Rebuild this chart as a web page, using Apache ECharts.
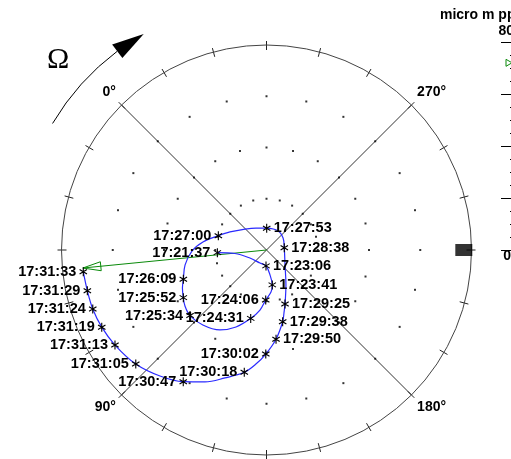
<!DOCTYPE html>
<html>
<head>
<meta charset="utf-8">
<script src="https://cdn.jsdelivr.net/npm/echarts@6/dist/echarts.min.js"></script>
<style>
  html, body { margin: 0; padding: 0; background: #fff; }
  #chart { width: 511px; height: 459px; }
</style>
</head>
<body>
<div id="chart"></div>
<script>
// Vibration vector history, oldest first.
// amplitude in micro m pp, phase in degrees; samples without a time stamp are unlabelled.
const times = [
  '17:21:37', null, null, null, '17:23:06', null, '17:23:41', null, '17:24:06', null,
  '17:24:31', null, null, null, '17:25:34', null, '17:25:52', null, '17:26:09', null,
  null, null, '17:27:00', null, null, null, '17:27:53', null, null, '17:28:38',
  null, null, '17:29:25', null, '17:29:38', '17:29:50', '17:30:02', null, '17:30:18', null,
  null, '17:30:47', null, '17:31:05', '17:31:13', '17:31:19', '17:31:24', '17:31:29', '17:31:33'
];
const amplitude = [
  19.2, 12.4, 7.2, 5.7, 6.2, 9.8, 13.8, 16.5, 19.5, 23.6,
  27.4, 32.3, 36.1, 38.4, 39.3, 38.6, 37.4, 36.0, 34.4, 32.3,
  29.1, 25.0, 19.6, 15.9, 11.7, 9.5, 8.5, 8.7, 8.0, 7.0,
  9.3, 15.6, 22.3, 25.5, 28.7, 35.0, 40.6, 44.7, 48.5, 52.5,
  56.8, 60.8, 64.4, 67.7, 69.8, 71.0, 71.6, 71.7, 72.0
];
const phase = [
  48.1, 51.3, 70.9, 108.4, 133.2, 143.0, 144.4, 141.1, 134.1, 128.8,
  122.0, 113.4, 104.8, 94.7, 85.6, 79.5, 74.8, 69.3, 64.4, 55.4,
  45.8, 37.8, 28.5, 18.7, 0.7, 340.5, 314.5, 283.8, 261.0, 232.4,
  186.0, 164.1, 153.9, 150.5, 147.7, 141.1, 134.6, 129.7, 124.7, 117.0,
  110.0, 102.7, 94.8, 86.1, 77.1, 70.1, 63.75, 57.8, 51.75
];
// Current vector [amplitude, phase]
const currentVector = [72.0, 50.6];
// Reference mark on the rim [amplitude, phase]
const rimMark = [77, 225];
// Amplitude rings carrying the dot grid, and the dot spacing in degrees
const dotRings = [20, 40, 60];
const dotStepDeg = 15;
// Full-scale amplitude of the plot
const fullScale = 80;

// Time stamps written to the right of their point
const labelsOnRight = ['17:23:06', '17:23:41', '17:27:53', '17:28:38', '17:29:25', '17:29:38', '17:29:50'];

const FONT = "'Liberation Sans', Arial, sans-serif";
const GREEN = '#0a8a0a';
const BLUE = '#2a2aff';
const STAR = 'path://M4.4 0H5.6V10H4.4Z M1.32 1.99L9.32 6.99L8.68 8.01L0.68 3.01Z M0.68 6.99L8.68 1.99L9.32 3.01L1.32 8.01Z';

const orbitData = times.map((t, i) => ({
  value: [amplitude[i], phase[i]],
  name: t || '',
  symbol: t ? STAR : 'none',
  label: { show: !!t, position: labelsOnRight.includes(t) ? 'right' : 'left' }
}));

const gridDots = [];
dotRings.forEach(r => {
  for (let a = 0; a < 360; a += dotStepDeg) gridDots.push([r, a]);
});

const chart = echarts.init(document.getElementById('chart'), null, { renderer: 'canvas' });

const angleBase = {
  type: 'value', min: 0, max: 360, interval: 90,
  startAngle: 135, clockwise: false
};

chart.setOption({
  backgroundColor: '#fff',
  animation: false,
  title: {
    text: 'micro m pp', left: 440, top: 8, padding: 0,
    textStyle: { fontFamily: FONT, fontWeight: 'bold', fontSize: 14, color: '#000' }
  },
  graphic: [{
    type: 'text', left: 47, top: 45,
    style: { text: 'Ω', font: "30px 'Liberation Serif', 'DejaVu Serif', serif", fill: '#000' }
  }],
  polar: [
    { center: [266.5, 250], radius: 205 },
    { center: [266.5, 250], radius: 205 }
  ],
  radiusAxis: [
    { polarIndex: 0, type: 'value', min: 0, max: fullScale, show: false },
    { polarIndex: 1, type: 'value', min: 0, max: fullScale, show: false }
  ],
  angleAxis: [
    Object.assign({}, angleBase, {
      polarIndex: 0,
      axisLine: { show: true, lineStyle: { color: '#444', width: 1 } },
      axisTick: { show: true, inside: false, length: 4, lineStyle: { color: '#222' } },
      minorTick: { show: true, splitNumber: 6, length: 4, lineStyle: { color: '#222' } },
      splitLine: { show: true, lineStyle: { color: '#333', width: 1 } },
      axisLabel: {
        show: true, margin: 8, formatter: '{value}°', color: '#000',
        fontFamily: FONT, fontWeight: 'bold', fontSize: 14
      }
    }),
    Object.assign({}, angleBase, {
      polarIndex: 1,
      axisLine: { show: false },
      axisTick: { show: true, inside: true, length: 5, lineStyle: { color: '#222' } },
      minorTick: { show: true, splitNumber: 6, length: 5, lineStyle: { color: '#222' } },
      splitLine: { show: false },
      axisLabel: { show: false }
    })
  ],
  // amplitude scale at the right edge
  grid: {
    left: 513, top: 42, width: 10, height: 208,
    containLabel: false, outerBoundsMode: 'none'
  },
  xAxis: { type: 'value', min: 0, max: 1, show: false },
  yAxis: {
    type: 'value', min: 0, max: fullScale, interval: 20, position: 'left',
    axisLine: { show: true, lineStyle: { color: '#000' } },
    axisTick: { show: true, inside: false, length: 12, lineStyle: { color: '#000' } },
    minorTick: { show: true, splitNumber: 4, length: 3, lineStyle: { color: '#000' } },
    splitLine: { show: false },
    axisLabel: {
      inside: false, margin: -1,
      formatter: v => v === fullScale ? '{hi|' + v + '}' : (v === 0 ? '{lo|0}' : ''),
      rich: {
        hi: { fontFamily: FONT, fontWeight: 'bold', fontSize: 14, color: '#000', padding: [0, 0, 22, 0] },
        lo: { fontFamily: FONT, fontWeight: 'bold', fontSize: 14, color: '#000', padding: [12, 3, 0, 0] }
      }
    }
  },
  series: [
    {
      // dot grid
      type: 'scatter', coordinateSystem: 'polar', polarIndex: 0,
      data: gridDots, symbol: 'rect', symbolSize: 2, silent: true,
      itemStyle: { color: '#000' }, z: 1
    },
    {
      // rotation direction arrow with its arc
      type: 'custom', coordinateSystem: 'polar', polarIndex: 0, silent: true,
      data: [[0, 0]], z: 2,
      renderItem(params, api) {
        const c = api.coord([0, 0]);
        const a = api.coord([97, 14.4]);
        const b = api.coord([97, -8.1]);
        const t = api.coord([97, -15.4]);
        const r = Math.hypot(a[0] - c[0], a[1] - c[1]);
        const sa = Math.atan2(a[1] - c[1], a[0] - c[0]);
        const ea = Math.atan2(b[1] - c[1], b[0] - c[0]);
        const u = [(b[0] - c[0]) / r, (b[1] - c[1]) / r];
        const hw = 8.5;
        return {
          type: 'group',
          children: [
            { type: 'arc', shape: { cx: c[0], cy: c[1], r: r, startAngle: sa, endAngle: ea, clockwise: true },
              style: { stroke: '#000', fill: null, lineWidth: 1 } },
            { type: 'polygon',
              shape: { points: [t, [b[0] + u[0] * hw, b[1] + u[1] * hw], [b[0] - u[0] * hw, b[1] - u[1] * hw]] },
              style: { fill: '#000' } }
          ]
        };
      }
    },
    {
      // rim reference mark
      type: 'scatter', coordinateSystem: 'polar', polarIndex: 0,
      data: [rimMark], symbol: 'rect', symbolSize: [17, 12], silent: true,
      itemStyle: { color: '#000' }, z: 3
    },
    {
      // current vector
      type: 'custom', coordinateSystem: 'polar', polarIndex: 0, silent: true,
      data: [currentVector], z: 4,
      renderItem(params, api) {
        const c = api.coord([0, 0]);
        const p = api.coord([api.value(0), api.value(1)]);
        const L = Math.hypot(p[0] - c[0], p[1] - c[1]);
        const u = [(p[0] - c[0]) / L, (p[1] - c[1]) / L];
        const n = [-u[1], u[0]];
        const len = 18, hw = 4.5;
        const bx = p[0] - u[0] * len, by = p[1] - u[1] * len;
        return {
          type: 'group',
          children: [
            { type: 'line', shape: { x1: c[0], y1: c[1], x2: p[0], y2: p[1] },
              style: { stroke: GREEN, lineWidth: 1 } },
            { type: 'polygon',
              shape: { points: [p, [bx + n[0] * hw, by + n[1] * hw], [bx - n[0] * hw, by - n[1] * hw]] },
              style: { fill: null, stroke: GREEN, lineWidth: 1 } }
          ]
        };
      }
    },
    {
      // orbit trace with time stamps
      type: 'line', coordinateSystem: 'polar', polarIndex: 0,
      data: orbitData, smooth: 0.35, clip: false, silent: true, z: 5,
      symbolSize: [8, 9],
      itemStyle: { color: '#000' },
      lineStyle: { color: BLUE, width: 1.2 },
      label: {
        formatter: '{b}', distance: 3, color: '#000',
        fontFamily: FONT, fontWeight: 'bold', fontSize: 14.5
      },
      labelLayout: { hideOverlap: false },
      emphasis: { disabled: true }
    },
    {
      // current amplitude pointer on the scale
      type: 'custom', coordinateSystem: 'cartesian2d', xAxisIndex: 0, yAxisIndex: 0,
      data: [[0, currentVector[0]]], silent: true, clip: false,
      renderItem(params, api) {
        const p = api.coord([api.value(0), api.value(1)]);
        const tipX = p[0] - 1, baseX = p[0] - 7;
        return {
          type: 'polygon',
          shape: { points: [[baseX, p[1] - 3.5], [tipX, p[1]], [baseX, p[1] + 3.5]] },
          style: { fill: null, stroke: GREEN, lineWidth: 1 }
        };
      }
    }
  ]
});
</script>
</body>
</html>
